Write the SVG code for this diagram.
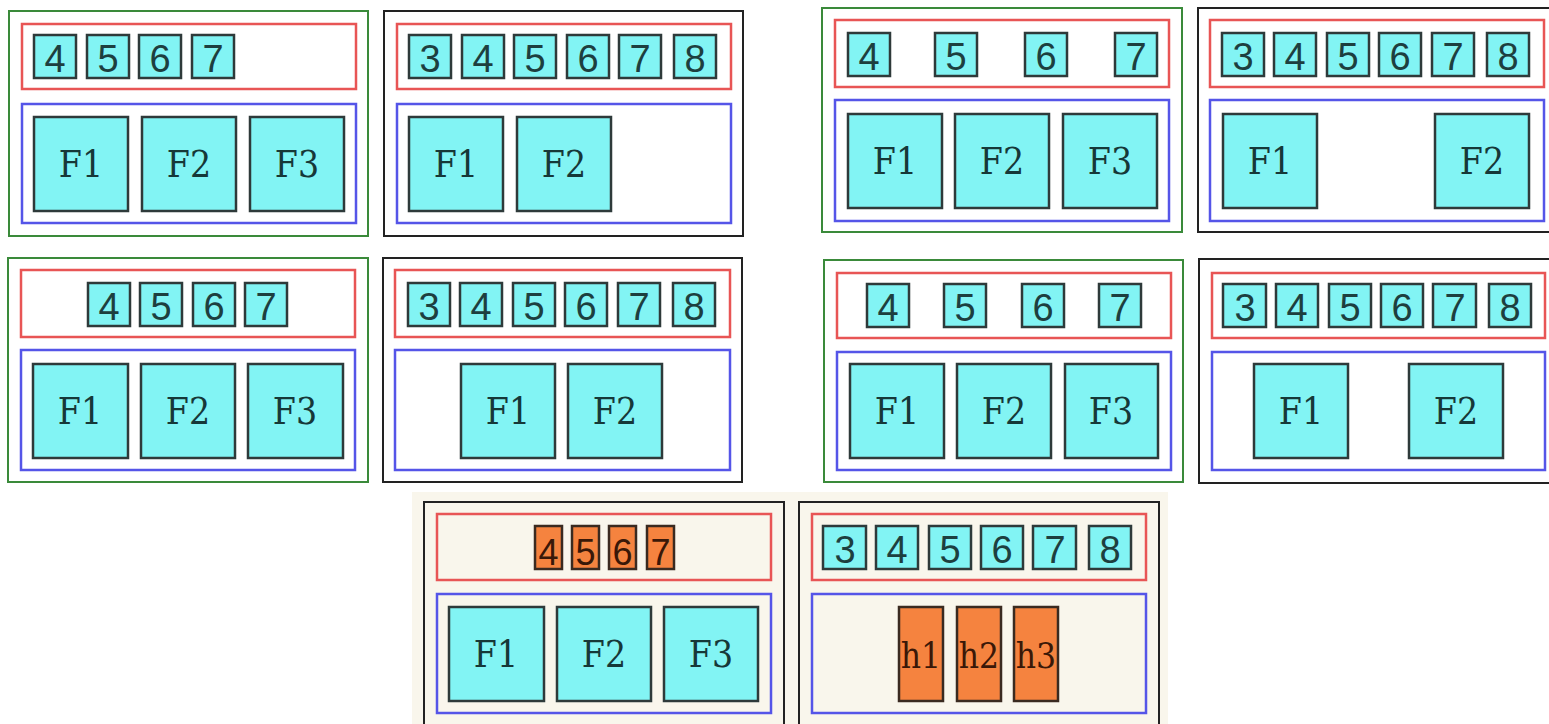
<svg xmlns="http://www.w3.org/2000/svg" width="1549" height="724" viewBox="0 0 1549 724">
<style>
.bg{fill:#ffffff}
.cream{fill:#f9f6ec}
.og{fill:none;stroke:#3a8a3a;stroke-width:2}
.ob{fill:none;stroke:#222222;stroke-width:2}
.red{fill:none;stroke:#e85555;stroke-width:2.5}
.blue{fill:none;stroke:#5555e8;stroke-width:2.5}
.c{fill:#82f4f4;stroke:#2e3a3a;stroke-width:2.5}
.o{fill:#f5833f;stroke:#3a2a20;stroke-width:2.5}
.d{font-family:"Liberation Sans",Arial,sans-serif;font-size:38px;fill:#1d3f3f;text-anchor:middle}
.do{font-family:"Liberation Sans",Arial,sans-serif;font-size:36px;fill:#3a1808;text-anchor:middle}
.f{font-family:"DejaVu Serif Condensed","DejaVu Serif","Liberation Serif",serif;font-stretch:condensed;font-size:37px;fill:#163838;text-anchor:middle}
.h{font-family:"DejaVu Serif Condensed","DejaVu Serif","Liberation Serif",serif;font-stretch:condensed;font-size:35px;fill:#3a1808;text-anchor:middle}
</style>
<rect class="bg" x="0" y="0" width="1549" height="724"/>
<rect class="cream" x="412" y="492" width="756" height="232"/>
<g id="connectors"/>

<!-- Panel 1 -->
<g id="panel1">
<rect class="og" x="9" y="11" width="359" height="225"/>
<g id="p1-header"><rect class="red" x="22" y="24" width="334" height="65"/>
<rect class="c" x="34" y="35" width="42" height="43"/><text class="d" x="55" y="72">4</text>
<rect class="c" x="87" y="35" width="42" height="43"/><text class="d" x="108" y="72">5</text>
<rect class="c" x="139" y="35" width="42" height="43"/><text class="d" x="160" y="72">6</text>
<rect class="c" x="192" y="35" width="42" height="43"/><text class="d" x="213" y="72">7</text>
</g>
<g id="p1-body"><rect class="blue" x="22" y="104" width="334" height="119"/>
<rect class="c" x="34" y="117" width="94" height="94"/><text class="f" x="81" y="177">F1</text>
<rect class="c" x="142" y="117" width="94" height="94"/><text class="f" x="189" y="177">F2</text>
<rect class="c" x="250" y="117" width="94" height="94"/><text class="f" x="297" y="177">F3</text>
</g>
</g>

<!-- Panel 2 -->
<g id="panel2">
<rect class="ob" x="384" y="11" width="359" height="225"/>
<g id="p2-header"><rect class="red" x="397" y="24" width="334" height="65"/>
<rect class="c" x="409" y="35" width="42" height="43"/><text class="d" x="430" y="72">3</text>
<rect class="c" x="462" y="35" width="42" height="43"/><text class="d" x="483" y="72">4</text>
<rect class="c" x="514" y="35" width="42" height="43"/><text class="d" x="535" y="72">5</text>
<rect class="c" x="567" y="35" width="42" height="43"/><text class="d" x="588" y="72">6</text>
<rect class="c" x="619" y="35" width="42" height="43"/><text class="d" x="640" y="72">7</text>
<rect class="c" x="674" y="35" width="42" height="43"/><text class="d" x="695" y="72">8</text>
</g>
<g id="p2-body"><rect class="blue" x="397" y="104" width="334" height="119"/>
<rect class="c" x="409" y="117" width="94" height="94"/><text class="f" x="456" y="177">F1</text>
<rect class="c" x="517" y="117" width="94" height="94"/><text class="f" x="564" y="177">F2</text>
</g>
</g>

<!-- Panel 3 -->
<g id="panel3">
<rect class="og" x="822" y="8" width="360" height="224"/>
<g id="p3-header"><rect class="red" x="835" y="20" width="334" height="67"/>
<rect class="c" x="848" y="33" width="42" height="43"/><text class="d" x="869" y="70">4</text>
<rect class="c" x="935" y="33" width="42" height="43"/><text class="d" x="956" y="70">5</text>
<rect class="c" x="1025" y="33" width="42" height="43"/><text class="d" x="1046" y="70">6</text>
<rect class="c" x="1115" y="33" width="42" height="43"/><text class="d" x="1136" y="70">7</text>
</g>
<g id="p3-body"><rect class="blue" x="835" y="100" width="334" height="121"/>
<rect class="c" x="848" y="114" width="94" height="94"/><text class="f" x="895" y="174">F1</text>
<rect class="c" x="955" y="114" width="94" height="94"/><text class="f" x="1002" y="174">F2</text>
<rect class="c" x="1063" y="114" width="94" height="94"/><text class="f" x="1110" y="174">F3</text>
</g>
</g>

<!-- Panel 4 -->
<g id="panel4">
<rect class="ob" x="1198" y="8" width="362" height="224"/>
<g id="p4-header"><rect class="red" x="1210" y="20" width="334" height="67"/>
<rect class="c" x="1222" y="33" width="42" height="43"/><text class="d" x="1243" y="70">3</text>
<rect class="c" x="1274" y="33" width="42" height="43"/><text class="d" x="1295" y="70">4</text>
<rect class="c" x="1327" y="33" width="42" height="43"/><text class="d" x="1348" y="70">5</text>
<rect class="c" x="1379" y="33" width="42" height="43"/><text class="d" x="1400" y="70">6</text>
<rect class="c" x="1432" y="33" width="42" height="43"/><text class="d" x="1453" y="70">7</text>
<rect class="c" x="1487" y="33" width="42" height="43"/><text class="d" x="1508" y="70">8</text>
</g>
<g id="p4-body"><rect class="blue" x="1210" y="100" width="334" height="121"/>
<rect class="c" x="1223" y="114" width="94" height="94"/><text class="f" x="1270" y="174">F1</text>
<rect class="c" x="1435" y="114" width="94" height="94"/><text class="f" x="1482" y="174">F2</text>
</g>
</g>

<!-- Panel 5 -->
<g id="panel5">
<rect class="og" x="8" y="258" width="360" height="224"/>
<g id="p5-header"><rect class="red" x="21" y="270" width="334" height="67"/>
<rect class="c" x="88" y="283" width="42" height="43"/><text class="d" x="109" y="320">4</text>
<rect class="c" x="140" y="283" width="42" height="43"/><text class="d" x="161" y="320">5</text>
<rect class="c" x="193" y="283" width="42" height="43"/><text class="d" x="214" y="320">6</text>
<rect class="c" x="245" y="283" width="42" height="43"/><text class="d" x="266" y="320">7</text>
</g>
<g id="p5-body"><rect class="blue" x="21" y="350" width="334" height="120"/>
<rect class="c" x="33" y="364" width="95" height="94"/><text class="f" x="80" y="424">F1</text>
<rect class="c" x="141" y="364" width="94" height="94"/><text class="f" x="188" y="424">F2</text>
<rect class="c" x="248" y="364" width="95" height="94"/><text class="f" x="295" y="424">F3</text>
</g>
</g>

<!-- Panel 6 -->
<g id="panel6">
<rect class="ob" x="383" y="258" width="359" height="224"/>
<g id="p6-header"><rect class="red" x="395" y="270" width="335" height="67"/>
<rect class="c" x="408" y="283" width="42" height="43"/><text class="d" x="429" y="320">3</text>
<rect class="c" x="460" y="283" width="42" height="43"/><text class="d" x="481" y="320">4</text>
<rect class="c" x="513" y="283" width="42" height="43"/><text class="d" x="534" y="320">5</text>
<rect class="c" x="565" y="283" width="42" height="43"/><text class="d" x="586" y="320">6</text>
<rect class="c" x="618" y="283" width="42" height="43"/><text class="d" x="639" y="320">7</text>
<rect class="c" x="673" y="283" width="42" height="43"/><text class="d" x="694" y="320">8</text>
</g>
<g id="p6-body"><rect class="blue" x="395" y="350" width="335" height="120"/>
<rect class="c" x="461" y="364" width="94" height="94"/><text class="f" x="508" y="424">F1</text>
<rect class="c" x="568" y="364" width="94" height="94"/><text class="f" x="615" y="424">F2</text>
</g>
</g>

<!-- Panel 7 -->
<g id="panel7">
<rect class="og" x="824" y="260" width="359" height="222"/>
<g id="p7-header"><rect class="red" x="837" y="273" width="334" height="65"/>
<rect class="c" x="867" y="284" width="42" height="43"/><text class="d" x="888" y="321">4</text>
<rect class="c" x="944" y="284" width="42" height="43"/><text class="d" x="965" y="321">5</text>
<rect class="c" x="1022" y="284" width="42" height="43"/><text class="d" x="1043" y="321">6</text>
<rect class="c" x="1099" y="284" width="42" height="43"/><text class="d" x="1120" y="321">7</text>
</g>
<g id="p7-body"><rect class="blue" x="837" y="352" width="334" height="118"/>
<rect class="c" x="850" y="364" width="94" height="94"/><text class="f" x="897" y="424">F1</text>
<rect class="c" x="957" y="364" width="94" height="94"/><text class="f" x="1004" y="424">F2</text>
<rect class="c" x="1065" y="364" width="93" height="94"/><text class="f" x="1111" y="424">F3</text>
</g>
</g>

<!-- Panel 8 -->
<g id="panel8">
<rect class="ob" x="1199" y="259" width="362" height="224"/>
<g id="p8-header"><rect class="red" x="1212" y="273" width="333" height="65"/>
<rect class="c" x="1223" y="284" width="43" height="43"/><text class="d" x="1245" y="321">3</text>
<rect class="c" x="1276" y="284" width="42" height="43"/><text class="d" x="1297" y="321">4</text>
<rect class="c" x="1329" y="284" width="42" height="43"/><text class="d" x="1350" y="321">5</text>
<rect class="c" x="1381" y="284" width="42" height="43"/><text class="d" x="1402" y="321">6</text>
<rect class="c" x="1433" y="284" width="43" height="43"/><text class="d" x="1455" y="321">7</text>
<rect class="c" x="1489" y="284" width="42" height="43"/><text class="d" x="1510" y="321">8</text>
</g>
<g id="p8-body"><rect class="blue" x="1212" y="352" width="333" height="118"/>
<rect class="c" x="1254" y="364" width="94" height="94"/><text class="f" x="1301" y="424">F1</text>
<rect class="c" x="1409" y="364" width="94" height="94"/><text class="f" x="1456" y="424">F2</text>
</g>
</g>

<!-- Panel 9 -->
<g id="panel9">
<rect class="ob" x="424" y="502" width="360" height="240"/>
<g id="p9-header"><rect class="red" x="437" y="514" width="334" height="66"/>
<rect class="o" x="535" y="526" width="27" height="43"/><text class="do" x="548.5" y="565">4</text>
<rect class="o" x="572" y="526" width="27" height="43"/><text class="do" x="585.5" y="565">5</text>
<rect class="o" x="609" y="526" width="27" height="43"/><text class="do" x="622.5" y="565">6</text>
<rect class="o" x="647" y="526" width="27" height="43"/><text class="do" x="660.5" y="565">7</text>
</g>
<g id="p9-body"><rect class="blue" x="437" y="594" width="334" height="119"/>
<rect class="c" x="449" y="607" width="95" height="94"/><text class="f" x="496" y="667">F1</text>
<rect class="c" x="557" y="607" width="94" height="94"/><text class="f" x="604" y="667">F2</text>
<rect class="c" x="664" y="607" width="94" height="94"/><text class="f" x="711" y="667">F3</text>
</g>
</g>

<!-- Panel 10 -->
<g id="panel10">
<rect class="ob" x="799" y="502" width="360" height="240"/>
<g id="p10-header"><rect class="red" x="812" y="514" width="334" height="66"/>
<rect class="c" x="823" y="526" width="43" height="43"/><text class="d" x="845" y="563">3</text>
<rect class="c" x="876" y="526" width="42" height="43"/><text class="d" x="897" y="563">4</text>
<rect class="c" x="929" y="526" width="42" height="43"/><text class="d" x="950" y="563">5</text>
<rect class="c" x="981" y="526" width="42" height="43"/><text class="d" x="1002" y="563">6</text>
<rect class="c" x="1033" y="526" width="43" height="43"/><text class="d" x="1055" y="563">7</text>
<rect class="c" x="1089" y="526" width="42" height="43"/><text class="d" x="1110" y="563">8</text>
</g>
<g id="p10-body"><rect class="blue" x="812" y="594" width="334" height="119"/>
<rect class="o" x="899" y="607" width="44" height="94"/><text class="h" x="921" y="668">h1</text>
<rect class="o" x="957" y="607" width="44" height="94"/><text class="h" x="979" y="668">h2</text>
<rect class="o" x="1014" y="607" width="44" height="94"/><text class="h" x="1036" y="668">h3</text>
</g>
</g>
</svg>
